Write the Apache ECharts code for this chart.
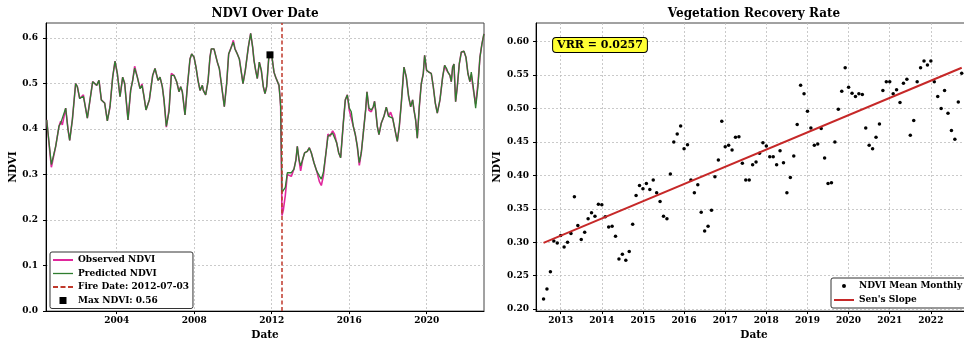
<!DOCTYPE html>
<html>
<head>
<meta charset="utf-8">
<script src="https://cdn.jsdelivr.net/npm/echarts@6/dist/echarts.min.js"></script>
<style>
  html, body { margin: 0; padding: 0; overflow: hidden; background: #fff; }
  #chart { width: 972px; height: 346px; }
</style>
</head>
<body>
<div id="chart"></div>
<script>
// ---- left panel: NDVI time series (decimal years) ----
const lineYears = [
  2000.386, 2000.626, 2000.85, 2001.02, 2001.108, 2001.194, 2001.366, 2001.486, 2001.573, 2001.71,
  2001.88, 2001.968, 2002.09, 2002.174, 2002.28, 2002.347, 2002.484, 2002.622, 2002.76, 2002.863,
  2002.966, 2003.086, 2003.207, 2003.31, 2003.379, 2003.516, 2003.654, 2003.792, 2003.912, 2004.032,
  2004.17, 2004.308, 2004.411, 2004.583, 2004.72, 2004.824, 2004.927, 2005.065, 2005.203, 2005.306,
  2005.41, 2005.512, 2005.684, 2005.857, 2005.977, 2006.132, 2006.235, 2006.355, 2006.441, 2006.562,
  2006.699, 2006.82, 2006.957, 2007.095, 2007.216, 2007.302, 2007.387, 2007.525, 2007.646, 2007.783,
  2007.87, 2007.99, 2008.093, 2008.196, 2008.3, 2008.42, 2008.471, 2008.592, 2008.712, 2008.815,
  2008.884, 2009.022, 2009.108, 2009.194, 2009.297, 2009.4, 2009.555, 2009.676, 2009.779, 2009.916,
  2010.02, 2010.106, 2010.226, 2010.33, 2010.432, 2010.519, 2010.639, 2010.794, 2010.915, 2011.018,
  2011.087, 2011.173, 2011.258, 2011.362, 2011.465, 2011.568, 2011.654, 2011.74, 2011.844, 2011.912,
  2012.016, 2012.119, 2012.205, 2012.29, 2012.377, 2012.428, 2012.463, 2012.532, 2012.6, 2012.703,
  2012.807, 2012.91, 2013.013, 2013.151, 2013.254, 2013.323, 2013.409, 2013.495, 2013.598, 2013.702,
  2013.839, 2013.942, 2014.045, 2014.183, 2014.321, 2014.459, 2014.562, 2014.665, 2014.803, 2014.906,
  2015.009, 2015.147, 2015.25, 2015.353, 2015.457, 2015.56, 2015.697, 2015.8, 2015.904, 2016.007,
  2016.11, 2016.213, 2016.316, 2016.42, 2016.523, 2016.626, 2016.764, 2016.85, 2016.919, 2017.022,
  2017.142, 2017.245, 2017.31, 2017.366, 2017.452, 2017.538, 2017.658, 2017.796, 2017.917, 2018.037,
  2018.14, 2018.244, 2018.347, 2018.484, 2018.588, 2018.691, 2018.829, 2018.949, 2019.069, 2019.173,
  2019.276, 2019.345, 2019.431, 2019.517, 2019.62, 2019.723, 2019.826, 2019.895, 2019.998, 2020.119,
  2020.239, 2020.342, 2020.446, 2020.549, 2020.687, 2020.824, 2020.928, 2021.031, 2021.1, 2021.203,
  2021.272, 2021.341, 2021.41, 2021.495, 2021.581, 2021.684, 2021.788, 2021.925, 2022.028, 2022.131,
  2022.235, 2022.304, 2022.407, 2022.528, 2022.648, 2022.751, 2022.854, 2022.958
];
const predictedNdvi = [
  0.420, 0.322, 0.362, 0.406, 0.413, 0.409, 0.446, 0.399, 0.375, 0.420,
  0.500, 0.493, 0.467, 0.464, 0.472, 0.457, 0.424, 0.464, 0.504, 0.500,
  0.496, 0.507, 0.464, 0.467, 0.457, 0.418, 0.449, 0.514, 0.549, 0.522,
  0.471, 0.514, 0.500, 0.420, 0.485, 0.507, 0.534, 0.514, 0.489, 0.496,
  0.471, 0.442, 0.464, 0.518, 0.533, 0.507, 0.514, 0.493, 0.464, 0.406,
  0.438, 0.518, 0.518, 0.504, 0.482, 0.493, 0.482, 0.431, 0.493, 0.554,
  0.565, 0.558, 0.536, 0.507, 0.485, 0.496, 0.485, 0.475, 0.504, 0.558,
  0.576, 0.576, 0.574, 0.547, 0.533, 0.500, 0.449, 0.500, 0.565, 0.580,
  0.591, 0.576, 0.565, 0.554, 0.525, 0.500, 0.529, 0.580, 0.610, 0.580,
  0.551, 0.529, 0.511, 0.547, 0.529, 0.493, 0.478, 0.493, 0.554, 0.567,
  0.558, 0.525, 0.514, 0.518, 0.496, 0.471, 0.449, 0.261, 0.261, 0.272,
  0.304, 0.308, 0.304, 0.312, 0.333, 0.362, 0.333, 0.319, 0.333, 0.348,
  0.351, 0.359, 0.348, 0.326, 0.308, 0.297, 0.290, 0.304, 0.348, 0.384,
  0.384, 0.391, 0.388, 0.370, 0.348, 0.337, 0.413, 0.464, 0.475, 0.446,
  0.438, 0.406, 0.388, 0.362, 0.326, 0.348, 0.406, 0.442, 0.482, 0.446,
  0.442, 0.449, 0.461, 0.442, 0.406, 0.388, 0.413, 0.428, 0.448, 0.428,
  0.431, 0.424, 0.420, 0.373, 0.406, 0.457, 0.536, 0.514, 0.471, 0.449,
  0.464, 0.442, 0.420, 0.380, 0.449, 0.500, 0.522, 0.562, 0.529, 0.525,
  0.522, 0.493, 0.457, 0.435, 0.464, 0.514, 0.540, 0.533, 0.525, 0.518,
  0.504, 0.536, 0.543, 0.460, 0.493, 0.543, 0.569, 0.571, 0.558, 0.522,
  0.504, 0.525, 0.493, 0.446, 0.493, 0.558, 0.587, 0.609
];
const observedNdvi = [
  0.420, 0.316, 0.362, 0.406, 0.417, 0.409, 0.446, 0.399, 0.375, 0.420,
  0.500, 0.493, 0.467, 0.464, 0.475, 0.457, 0.424, 0.464, 0.504, 0.500,
  0.496, 0.507, 0.464, 0.467, 0.457, 0.418, 0.449, 0.514, 0.549, 0.522,
  0.471, 0.514, 0.500, 0.420, 0.485, 0.507, 0.538, 0.514, 0.489, 0.499,
  0.471, 0.442, 0.464, 0.518, 0.533, 0.507, 0.514, 0.493, 0.464, 0.404,
  0.442, 0.522, 0.518, 0.504, 0.482, 0.493, 0.482, 0.431, 0.493, 0.554,
  0.565, 0.558, 0.536, 0.507, 0.485, 0.496, 0.485, 0.475, 0.504, 0.558,
  0.576, 0.576, 0.574, 0.547, 0.533, 0.500, 0.449, 0.500, 0.565, 0.580,
  0.595, 0.576, 0.565, 0.554, 0.525, 0.500, 0.529, 0.580, 0.610, 0.580,
  0.551, 0.529, 0.511, 0.547, 0.529, 0.493, 0.478, 0.493, 0.554, 0.567,
  0.558, 0.525, 0.514, 0.518, 0.496, 0.471, 0.449, 0.210, 0.222, 0.254,
  0.300, 0.300, 0.296, 0.312, 0.333, 0.362, 0.333, 0.308, 0.333, 0.348,
  0.351, 0.359, 0.348, 0.326, 0.308, 0.285, 0.276, 0.296, 0.348, 0.389,
  0.384, 0.396, 0.388, 0.370, 0.348, 0.337, 0.413, 0.464, 0.475, 0.441,
  0.438, 0.406, 0.388, 0.362, 0.320, 0.348, 0.406, 0.442, 0.482, 0.441,
  0.438, 0.449, 0.461, 0.442, 0.406, 0.388, 0.413, 0.428, 0.448, 0.428,
  0.437, 0.424, 0.420, 0.373, 0.406, 0.457, 0.536, 0.514, 0.471, 0.449,
  0.464, 0.442, 0.420, 0.380, 0.449, 0.500, 0.522, 0.562, 0.529, 0.525,
  0.522, 0.493, 0.457, 0.435, 0.464, 0.514, 0.540, 0.529, 0.525, 0.518,
  0.504, 0.536, 0.543, 0.460, 0.493, 0.543, 0.569, 0.571, 0.558, 0.522,
  0.504, 0.520, 0.487, 0.455, 0.500, 0.558, 0.587, 0.609
];
const fireYear = 2012.503;          // 2012-07-03
const maxNdviPoint = [2011.912, 0.563];
const leftYearTicks = [2004, 2008, 2012, 2016, 2020];
const leftNdviTicks = [0.0, 0.1, 0.2, 0.3, 0.4, 0.5, 0.6];

// ---- right panel: monthly means from July 2012 ----
const monthlyMean = [
  0.215, 0.230, 0.256, 0.302, 0.299, 0.310, 0.293, 0.300, 0.313, 0.368,
  0.325, 0.304, 0.315, 0.335, 0.344, 0.339, 0.357, 0.356, 0.338, 0.323,
  0.324, 0.309, 0.275, 0.282, 0.273, 0.286, 0.327, 0.370, 0.385, 0.380,
  0.388, 0.379, 0.393, 0.374, 0.361, 0.339, 0.335, 0.402, 0.450, 0.462,
  0.474, 0.440, 0.446, 0.393, 0.374, 0.386, 0.345, 0.317, 0.324, 0.348,
  0.398, 0.423, 0.481, 0.443, 0.445, 0.438, 0.457, 0.458, 0.418, 0.393,
  0.393, 0.416, 0.420, 0.433, 0.449, 0.444, 0.428, 0.428, 0.416, 0.437,
  0.419, 0.374, 0.397, 0.429, 0.476, 0.535, 0.522, 0.496, 0.471, 0.445,
  0.447, 0.470, 0.426, 0.388, 0.389, 0.450, 0.499, 0.526, 0.561, 0.532,
  0.523, 0.518, 0.522, 0.521, 0.471, 0.445, 0.440, 0.457, 0.477, 0.527,
  0.540, 0.540, 0.522, 0.528, 0.509, 0.538, 0.544, 0.460, 0.482, 0.540,
  0.561, 0.571, 0.565, 0.571, 0.540, 0.518, 0.500, 0.527, 0.493, 0.467,
  0.454, 0.510, 0.553
];
const monthYears = monthlyMean.map((_, i) => 2012 + (7 + i) / 12);  // month ends
const senSlopeEnds = [0.299, 0.561];
const vrr = 0.0257;
const rightYearTicks = [2013, 2014, 2015, 2016, 2017, 2018, 2019, 2020, 2021, 2022];
const rightNdviTicks = [0.20, 0.25, 0.30, 0.35, 0.40, 0.45, 0.50, 0.55, 0.60];

const FONT = 'DejaVu Serif';
const tickText = { fontFamily: FONT, fontWeight: 'bold', fontSize: 9, color: '#000' };
const nameText = { fontFamily: FONT, fontWeight: 'bold', fontSize: 10.5, color: '#000' };
const legendText = { fontFamily: FONT, fontWeight: 'bold', fontSize: 9, color: '#000', lineHeight: 12 };
const gridLine = { show: true, lineStyle: { color: '#bdbdbd', type: [2, 2], width: 0.8 } };
const axisLine = { show: true, onZero: false, lineStyle: { color: '#000', width: 1 } };

// legend glyphs
const solidIcon = 'path://M0,0h20v2h-20z';
const thinIcon = 'path://M0,0h20v1.3h-20z';
const dashIcon = 'path://M0,0h5v2h-5z M7.5,0h5v2h-5z M15,0h5v2h-5z';
const squareIcon = 'path://M0,0h6v6h-6z';
const dotIcon = 'path://M2,0a2,2 0 1,0 0.01,0z';

const chart = echarts.init(document.getElementById('chart'), null, { renderer: 'canvas' });

chart.setOption({
  animation: false,
  grid: [
    { left: 46, top: 23, width: 438, height: 289, show: true, borderColor: '#444', borderWidth: 1 },
    { left: 536, top: 23, width: 436, height: 289, show: true, borderColor: '#444', borderWidth: 1 }
  ],
  xAxis: [
    {
      type: 'value', gridIndex: 0, min: 2000.35, max: 2022.96,
      name: 'Date', nameLocation: 'middle', nameGap: 17, nameTextStyle: nameText,
      axisLine: axisLine,
      axisTick: { show: true, length: 3, customValues: leftYearTicks, lineStyle: { color: '#000' } },
      axisLabel: { ...tickText, margin: 5, customValues: leftYearTicks, formatter: v => String(Math.round(v)) },
      splitLine: gridLine
    },
    {
      type: 'value', gridIndex: 1, min: 2012.40, max: 2023.0,
      name: 'Date', nameLocation: 'middle', nameGap: 17, nameTextStyle: nameText,
      axisLine: axisLine,
      axisTick: { show: true, length: 3, customValues: rightYearTicks, lineStyle: { color: '#000' } },
      axisLabel: { ...tickText, margin: 5, customValues: rightYearTicks, formatter: v => String(Math.round(v)) },
      splitLine: gridLine
    }
  ],
  yAxis: [
    {
      type: 'value', gridIndex: 0, min: 0, max: 0.633,
      name: 'NDVI', nameLocation: 'middle', nameGap: 25, nameTextStyle: nameText,
      axisLine: axisLine,
      axisTick: { show: true, length: 3, customValues: leftNdviTicks, lineStyle: { color: '#000' } },
      axisLabel: { ...tickText, margin: 8, customValues: leftNdviTicks, formatter: v => v.toFixed(1) },
      splitLine: gridLine
    },
    {
      type: 'value', gridIndex: 1, min: 0.197, max: 0.628,
      name: 'NDVI', nameLocation: 'middle', nameGap: 33, nameTextStyle: nameText,
      axisLine: axisLine,
      axisTick: { show: true, length: 3, customValues: rightNdviTicks, lineStyle: { color: '#000' } },
      axisLabel: { ...tickText, margin: 7, customValues: rightNdviTicks, formatter: v => v.toFixed(2) },
      splitLine: gridLine
    }
  ],
  legend: [
    {
      data: [
        { name: 'Observed NDVI', icon: solidIcon },
        { name: 'Predicted NDVI', icon: thinIcon },
        { name: 'Fire Date: 2012-07-03', icon: dashIcon },
        { name: 'Max NDVI: 0.56', icon: squareIcon }
      ],
      orient: 'vertical', left: 50, top: 252, padding: [2, 4, 2, 3],
      itemGap: 1.5, itemWidth: 20, itemHeight: 7, textStyle: legendText,
      backgroundColor: '#fff', borderColor: '#333', borderWidth: 1, borderRadius: 2
    },
    {
      data: [
        { name: 'NDVI Mean Monthly', icon: dotIcon },
        { name: "Sen's Slope", icon: solidIcon }
      ],
      orient: 'vertical', left: 831, top: 278, padding: [2, 4, 2, 3],
      itemGap: 2, itemWidth: 20, itemHeight: 4, textStyle: legendText,
      backgroundColor: '#fff', borderColor: '#333', borderWidth: 1, borderRadius: 2
    }
  ],
  graphic: [
    { type: 'text', x: 265, y: 14, style: { text: 'NDVI Over Date', textAlign: 'center', textVerticalAlign: 'middle', font: 'bold 12px "DejaVu Serif"', fill: '#000' } },
    { type: 'text', x: 754, y: 14, style: { text: 'Vegetation Recovery Rate', textAlign: 'center', textVerticalAlign: 'middle', font: 'bold 12px "DejaVu Serif"', fill: '#000' } },
    {
      type: 'text', x: 600, y: 45, z: 100,
      style: {
        text: 'VRR = ' + vrr.toFixed(4), textAlign: 'center', textVerticalAlign: 'middle',
        font: 'bold 11px "DejaVu Serif"', fill: '#000',
        backgroundColor: '#ffff33', borderColor: '#000', borderWidth: 1, borderRadius: 3, padding: [2, 4, 1, 4]
      }
    }
  ],
  series: [
    {
      name: 'Observed NDVI', type: 'line', xAxisIndex: 0, yAxisIndex: 0,
      data: lineYears.map((y, i) => [y, observedNdvi[i]]),
      symbol: 'none', color: '#e0279c', lineStyle: { color: '#e0279c', width: 1.6 }
    },
    {
      name: 'Predicted NDVI', type: 'line', xAxisIndex: 0, yAxisIndex: 0,
      data: lineYears.map((y, i) => [y, predictedNdvi[i]]),
      symbol: 'none', color: '#2f7d2f', lineStyle: { color: '#2f7d2f', width: 1.3 }
    },
    {
      name: 'Fire Date: 2012-07-03', type: 'line', xAxisIndex: 0, yAxisIndex: 0,
      data: [], symbol: 'none', color: '#c0392b',
      lineStyle: { color: '#c0392b', width: 1.5, type: [4, 2.5] },
      markLine: {
        silent: true, symbol: ['none', 'none'], label: { show: false },
        lineStyle: { color: '#c0392b', width: 1.5, type: [4, 2.5] },
        data: [{ xAxis: fireYear }]
      }
    },
    {
      name: 'Max NDVI: 0.56', type: 'scatter', xAxisIndex: 0, yAxisIndex: 0,
      data: [maxNdviPoint], symbol: 'rect', symbolSize: 7, z: 5,
      color: '#000', itemStyle: { color: '#000', opacity: 1 }
    },
    {
      name: 'NDVI Mean Monthly', type: 'scatter', xAxisIndex: 1, yAxisIndex: 1,
      data: monthYears.map((y, i) => [y, monthlyMean[i]]),
      symbol: 'circle', symbolSize: 3.5,
      color: '#000', itemStyle: { color: '#000', opacity: 1 }
    },
    {
      name: "Sen's Slope", type: 'line', xAxisIndex: 1, yAxisIndex: 1,
      data: [[monthYears[0], senSlopeEnds[0]], [monthYears[monthYears.length - 1], senSlopeEnds[1]]],
      symbol: 'none', color: '#c62828', lineStyle: { color: '#c62828', width: 2 }
    }
  ]
});
</script>
</body>
</html>
